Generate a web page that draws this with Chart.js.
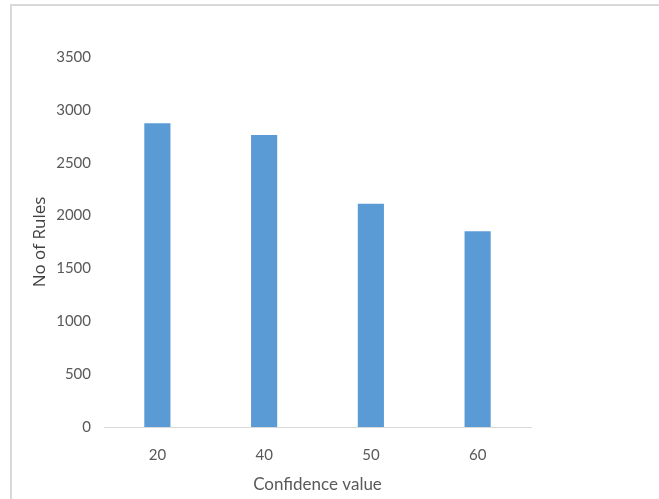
<!DOCTYPE html>
<html>
<head>
<meta charset="utf-8">
<script src="https://cdn.jsdelivr.net/npm/chart.js@4"></script>
<style>
  html, body { margin: 0; padding: 0; background: #ffffff; }
  #wrap { position: relative; width: 659px; height: 499px; overflow: hidden; }
  #frame { position: absolute; left: 10px; top: 4px; right: -10px; bottom: -10px;
           border-left: 2px solid #d9d9d9; border-top: 2px solid #d9d9d9; }
  canvas { position: absolute; left: 0; top: 0; }
</style>
</head>
<body>
<div id="wrap">
  <div id="frame"></div>
  <canvas id="chart" width="659" height="499"></canvas>
</div>
<script>
// Number of rules generated at each confidence threshold
const confidenceValues = ['20', '40', '50', '60'];
const ruleCounts = [2874, 2763, 2113, 1851];
const yTicks = [0, 500, 1000, 1500, 2000, 2500, 3000, 3500];

const tickColor = '#595959';
const fontFamily = 'Lato, "Liberation Sans", sans-serif';

new Chart(document.getElementById('chart'), {
  type: 'bar',
  data: {
    labels: confidenceValues,
    datasets: [{
      label: 'No of Rules',
      data: ruleCounts,
      backgroundColor: '#5b9bd5',
      borderWidth: 0,
      barPercentage: 1,
      categoryPercentage: 0.245
    }]
  },
  options: {
    responsive: false,
    animation: false,
    layout: { padding: { top: 57, right: 128, left: 0, bottom: 0 } },
    plugins: {
      legend: { display: false },
      tooltip: { enabled: false }
    },
    scales: {
      x: {
        grid: { display: false, drawTicks: false },
        border: { display: true, color: '#d9d9d9', width: 1 },
        ticks: { color: tickColor, font: { family: fontFamily, size: 15 }, padding: 19 },
        title: {
          display: true,
          text: 'Confidence value',
          color: tickColor,
          font: { family: fontFamily, size: 17 },
          padding: { top: 0, bottom: 4 }
        },
        afterFit: (scale) => { scale.height = 72; }
      },
      y: {
        min: 0,
        max: 3500,
        afterBuildTicks: (scale) => { scale.ticks = yTicks.map(v => ({ value: v })); },
        grid: { display: false, drawTicks: false },
        border: { display: false },
        ticks: {
          color: tickColor,
          font: { family: fontFamily, size: 15 },
          padding: 13,
          callback: (v) => String(v)
        },
        title: {
          display: true,
          text: 'No of Rules',
          color: '#404040',
          font: { family: '"Open Sans", sans-serif', size: 17 },
          padding: { top: 30, bottom: 0 }
        },
        afterFit: (scale) => { scale.width = 104; }
      }
    }
  }
});
</script>
</body>
</html>
